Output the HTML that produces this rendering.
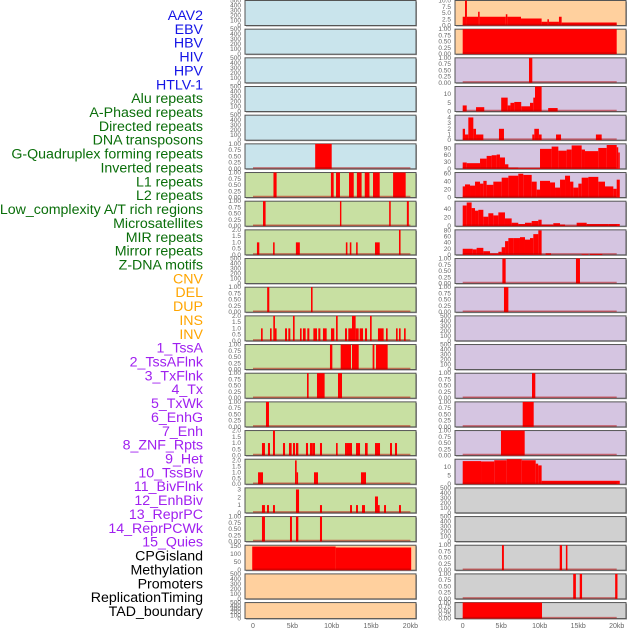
<!DOCTYPE html>
<html><head><meta charset="utf-8"><style>
html,body{margin:0;padding:0;background:#fff;width:630px;height:630px;overflow:hidden}
svg{display:block}
</style></head><body>
<svg id="chart" width="630" height="630" xmlns="http://www.w3.org/2000/svg" font-family="Liberation Sans, sans-serif"></svg>
<script>
const trackLabels=["AAV2","EBV","HBV","HIV","HPV","HTLV-1","Alu repeats","A-Phased repeats","Directed repeats","DNA transposons","G-Quadruplex forming repeats","Inverted repeats","L1 repeats","L2 repeats","Low_complexity A/T rich regions","Microsatellites","MIR repeats","Mirror repeats","Z-DNA motifs","CNV","DEL","DUP","INS","INV","1_TssA","2_TssAFlnk","3_TxFlnk","4_Tx","5_TxWk","6_EnhG","7_Enh","8_ZNF_Rpts","9_Het","10_TssBiv","11_BivFlnk","12_EnhBiv","13_ReprPC","14_ReprPCWk","15_Quies","CPGisland","Methylation","Promoters","ReplicationTiming","TAD_boundary"];
const xTickValues=[0,5,10,15,20];
const xTickLabels=["0","5kb","10kb","15kb","20kb"];
const t500=[0,100,200,300,400,500], t1=[0,0.25,0.5,0.75,1], t2=[0,0.5,1,1.5,2], t3=[0,1,2,3], t150=[0,50,100,150];
const tR0=[0,2.5,5,7.5,10], tR3=[0,5,10], tR4=[0,1,2,3,4], tR5=[0,30,60,90], tR6=[0,20,40,60], tR7=[0,20,40], tR8=[0,20,40,60,80];
const L5=[[7.9,10.0,1]];
const L6=[[2.6,3.0,1],[9.9,10.25,1],[10.55,11.05,1],[12.2,12.8,1],[13.2,13.8,1],[14.2,14.8,1],[15.25,16.1,1],[17.8,19.4,1]];
const L7=[[1.27,1.6,1],[11.05,11.2,1],[17.3,17.5,1],[19.55,19.8,1]];
const L8=[[0.5,0.8,1],[2.55,2.75,1],[5.45,5.95,1],[11.8,12.0,1],[12.3,12.5,1],[13.1,13.3,1],[15.5,16.1,1],[18.55,18.75,2]];
const L10=[[1.8,2.07,1],[7.37,7.57,1]];
const L11=[[1.02,1.23,1],[2.16,2.37,1],[2.58,2.79,2],[2.79,3.0,1],[4.07,4.32,1],[4.49,4.74,1],[5.08,5.29,2],[5.97,6.18,1],[6.35,6.69,1],[6.9,7.16,1],[7.67,8.13,1],[8.3,8.56,1],[8.89,9.36,1],[9.91,10.33,1],[10.55,10.76,2],[11.69,11.94,1],[12.11,12.58,1],[12.58,13.04,2],[13.04,13.43,1],[13.55,13.98,1],[14.23,14.49,1],[14.87,15.08,2],[15.88,16.6,1],[16.9,17.11,1],[18.17,18.38,1],[18.55,18.76,1],[19.19,19.4,1]];
const L12=[[9.78,10.08,1],[11.14,12.45,1],[12.58,13.43,1],[15.2,15.42,1],[15.63,17.11,1]];
const L13=[[6.86,7.07,1],[8.13,9.1,1],[10.8,11.31,1]];
const L14=[[1.65,2.03,1]];
const L15=[[1.14,1.52,1],[1.9,2.16,1],[2.54,2.79,2],[3.81,4.07,1],[4.57,4.91,1],[5.08,5.34,1],[5.46,5.76,1],[6.73,6.99,1],[7.24,7.54,1],[7.54,7.88,1],[8.51,8.77,1],[10.55,10.76,1],[11.69,11.94,1],[11.94,12.58,1],[13.09,13.6,1],[14.23,14.57,1],[15.5,16.14,1],[17.41,17.66,1],[18.04,18.3,1]];
const L16=[[0.64,1.27,1],[5.34,5.55,2],[5.55,5.7,1],[7.75,8.26,1],[13.72,14.36,1]];
const L17=[[1.14,1.52,1],[1.78,2.03,1],[2.54,2.79,1],[5.46,5.85,3],[8.51,8.77,1],[12.33,12.58,1],[13.09,13.34,1],[13.85,14.23,1],[15.5,15.88,2.1],[15.88,16.1,1],[16.65,16.9,1],[18.55,18.8,1]];
const L18=[[1.14,1.52,1],[4.7,4.95,1],[5.46,5.76,1],[8.51,8.77,1]];
const L19=[[-0.1,10.5,147],[10.5,20.1,141]];
const R0=[[0,0.3,3.5],[0.3,0.55,10],[0.55,2.0,3.5],[2.0,2.2,5.5],[2.2,5.6,3.5],[5.6,5.8,4.5],[5.8,7.57,3.5],[7.57,10.25,2.8],[10.25,11.0,1.5],[11.0,11.2,2.5],[11.2,12.5,1.5],[12.5,12.85,3.5],[12.85,20,1.2]];
const R1=[[0,20,1]];
const R2=[[8.61,9.04,1]];
const R3=[[0,0.52,3.5],[1.73,2.8,2.5],[5.0,5.84,8],[5.84,6.2,3.5],[6.2,6.7,5],[6.7,7.6,5.5],[7.6,8.74,3],[8.74,9.17,5],[9.17,9.39,8],[9.39,10.25,14.4],[11.1,12.33,2]];
const R4=[[0,0.3,2],[0.3,0.73,1],[0.73,1.38,4],[1.38,1.73,2],[1.73,2.68,1],[4.71,5.36,2],[9.04,9.3,1],[9.3,9.9,2],[9.9,10.25,1],[12.12,12.77,1],[17.3,18.05,1]];
const R5edges=[0,0.52,2.25,3.11,3.76,4.41,4.84,5.49,5.93,7.22,10.04,11.55,12.42,13.5,14.15,15.45,15.88,17.61,18.7,20,20.2,20.4];
const R5vals=[28,25,45,57,60,63,50,20,5,3,88,98,80,85,103,85,78,92,105,95,72];
const R6edges=[0,0.3,0.95,1.6,2.25,2.68,3.11,3.98,5.06,5.93,7.22,7.87,8.96,9.61,10.04,11.34,11.99,12.64,13.29,13.94,14.37,15.02,15.45,16.32,17.61,18.48,19.56,20,20.4];
const R6vals=[28,33,30,40,35,42,32,40,50,55,60,57,40,20,42,38,25,45,55,40,25,35,50,52,40,28,22,45];
const R7edges=[0,0.52,1.16,1.6,2.03,2.68,3.33,3.98,4.63,5.49,6.36,7.22,8.09,8.96,9.82,10.25,11.77,12.64,13.29,14.8,16.1,18.91,20.4];
const R7vals=[48,55,42,36,38,22,30,25,32,18,8,5,8,12,15,4,7,4,1,8,5,5];
const R8edges=[0,1.3,1.81,2.68,3.55,4.63,5.06,5.5,5.93,6.58,7.44,8.09,8.74,9.17,9.82,10.25,10.77,11.47];
const R8vals=[20,18,23,12,5,10,25,45,55,55,58,50,55,68,80,0,5];
const R8extra=[[15.45,16.32,2],[16.53,18.13,3]];
const R9=[[5.15,5.58,1],[14.71,15.23,1]];
const R10=[[5.36,5.93,1]];
const R13=[[9.0,9.43,1]];
const R14=[[7.79,9.22,1]];
const R15=[[4.97,8.05,1]];
const R16=[[0,2.38,13.5],[2.38,4.1,13.3],[4.1,5.71,14],[5.71,7.66,14.6],[7.66,9.48,14],[9.48,9.8,12],[9.8,10.25,11],[10.25,20.4,2]];
const R19=[[5.1,5.35,1],[12.6,12.9,1],[13.4,13.6,1]];
const R20=[[14.35,14.7,1],[15.2,15.5,1],[19.8,20.1,1]];
const R21=[[0,10.3,1]];

function stepSegs(edges,vals){const s=[];for(let i=0;i<vals.length;i++){s.push([edges[i],edges[i+1],vals[i]]);}return s;}

const BLUE='#c9e4ec',GREEN='#c8e0a2',PEACH='#ffd09e',PURP='#d5c5e1',GRAY='#d0d0d0';
const leftPanels=[
 [BLUE,t500,500,null],[BLUE,t500,500,null],[BLUE,t500,500,null],[BLUE,t500,500,null],[BLUE,t500,500,null],
 [BLUE,t1,1,L5],[GREEN,t1,1,L6],[GREEN,t1,1,L7],[GREEN,t2,2,L8],[GREEN,t500,500,null],
 [GREEN,t1,1,L10],[GREEN,t2,2,L11],[GREEN,t1,1,L12],[GREEN,t1,1,L13],[GREEN,t1,1,L14],
 [GREEN,t2,2,L15],[GREEN,t2,2.1,L16],[GREEN,t3,3.2,L17],[GREEN,t1,1,L18],[PEACH,t150,155,L19],
 [PEACH,t500,500,null],[PEACH,t500,500,null]];
const rightPanels=[
 [PEACH,tR0,10,R0],[PEACH,t1,1,R1],[PURP,t1,1,R2],[PURP,tR3,14.4,R3],[PURP,tR4,4.4,R4],
 [PURP,tR5,110,stepSegs(R5edges,R5vals)],[PURP,tR6,63,stepSegs(R6edges,R6vals)],[PURP,tR7,58,stepSegs(R7edges,R7vals)],
 [PURP,tR8,82,stepSegs(R8edges,R8vals).concat(R8extra)],[PURP,t1,1,R9],[PURP,t1,1,R10],[PURP,t500,500,null],
 [PURP,t500,500,null],[PURP,t1,1,R13],[PURP,t1,1,R14],[PURP,t1,1,R15],[PURP,tR3,14.6,R16],
 [GRAY,t500,500,null],[GRAY,t500,500,null],[GRAY,t1,1,R19],[GRAY,t1,1,R20],[GRAY,t1,1,R21]];

const NS='http://www.w3.org/2000/svg';
const svg=document.getElementById('chart');
function mk(tag,attrs,parent){const e=document.createElementNS(NS,tag);for(const k in attrs)e.setAttribute(k,attrs[k]);(parent||svg).appendChild(e);return e;}

const labelColor=i=>i<6?'#1414e6':i<19?'#0a6e0a':i<24?'#ffa500':i<39?'#a020f0':'#000';
trackLabels.forEach((t,i)=>{
 const el=mk('text',{x:203,y:20+i*13.86,'text-anchor':'end','font-size':'14.2',fill:labelColor(i)});
 
 
 el.textContent=t;
});

const cols=[{x0:245,x1:416,o:253,k:7.87,tx:241,panels:leftPanels,n:'left'},{x0:455,x1:626,o:462.7,k:7.7,tx:451,panels:rightPanels,n:'right'}];
cols.forEach(c=>{
 const xs=kb=>c.o+kb*c.k;
 c.panels.forEach((p,r)=>{
  const top=r*28.67+0.5, h=(r===21?16:25), bot=top+h;
  const [bg,ticks,max,segs]=p;
  const g=mk('g',{});
  
  
  mk('rect',{x:c.x0+1,y:top+1,width:c.x1-c.x0,height:h,fill:'#999'},g);
  mk('rect',{x:c.x0,y:top,width:c.x1-c.x0,height:h,fill:bg,stroke:'#555','stroke-width':1},g);
  const ys=v=>bot-Math.min(v,max)/max*h;
  if(segs){
   segs.forEach(s=>{
    const x=xs(Math.max(s[0],-0.9)),w=Math.max(xs(s[1])-x,1.4);
    const b=mk('rect',{x:x,y:ys(s[2]),width:w,height:bot-ys(s[2]),fill:'#ff0000'},g);
    
    
   });
   mk('line',{x1:xs(0),x2:xs(20),y1:bot-1,y2:bot-1,stroke:'rgba(180,0,0,0.5)','stroke-width':1.5},g);
  }
  ticks.forEach(v=>{
   const t=mk('text',{x:c.tx,y:ys(v)+2,'text-anchor':'end','font-size':'6.5',fill:'#666'},g);
   
   
   t.textContent=(ticks===t1?v.toFixed(2):(ticks===t2||ticks===tR0)?v.toFixed(1):String(v));
  });
 });
 xTickValues.forEach((v,i)=>{
  const t=mk('text',{x:xs(v),y:628,'text-anchor':'middle','font-size':'7',fill:'#666'});
  
  
  t.textContent=xTickLabels[i];
 });
});
</script>
</body></html>
